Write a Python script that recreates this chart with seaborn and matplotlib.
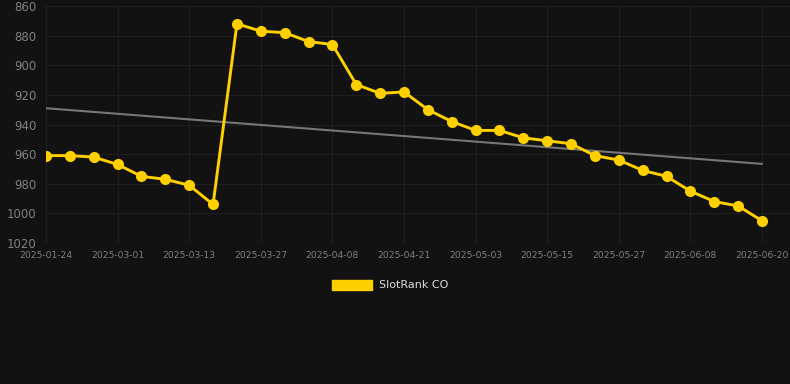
import numpy as np
import pandas as pd
import matplotlib
matplotlib.use('Agg')
import matplotlib.pyplot as plt
from matplotlib.patches import Patch
import seaborn as sns

# rank values (lower = better, axis inverted)
ranks = [961, 961, 962, 967, 975, 977, 981, 994, 872, 877, 878, 884, 886, 913,
         919, 918, 930, 938, 944, 944, 949, 951, 953, 961, 964, 971, 975, 985,
         992, 995, 1005]
tick_labels = ['2025-01-24', '2025-03-01', '2025-03-13', '2025-03-27', '2025-04-08',
               '2025-04-21', '2025-05-03', '2025-05-15', '2025-05-27', '2025-06-08',
               '2025-06-20']
series_name = 'SlotRank CO'

df = pd.DataFrame({'idx': np.arange(len(ranks)), 'rank': ranks})

background = '#121212'
grid_col = '#1f1f1f'
text_col = '#808080'
gold = '#FFD000'

sns.set_style('dark')
fig = plt.figure(figsize=(7.9, 3.84), dpi=100)
fig.set_facecolor(background)
ax = fig.add_axes([46/790, 1 - 243/384, 1 - 46/790, (243 - 6)/384])
ax.patch.set_facecolor(background)

# trend line (linear fit)
slope, icpt = np.polyfit(df['idx'], df['rank'], 1)
ax.plot(df['idx'], icpt + slope * df['idx'], color='#777777', lw=1.5, zorder=2)

sns.lineplot(data=df, x='idx', y='rank', ax=ax, color=gold, lw=2.1,
             marker='o', markersize=8, markeredgewidth=0, zorder=3)

ax.set_ylim(1020, 860)
ax.set_xlim(0, (790 - 46) / ((762 - 46) / 30))
ax.set_yticks(range(860, 1021, 20))
ax.set_xticks(np.arange(0, len(ranks), 3))
ax.set_xticklabels(tick_labels)
ax.tick_params(axis='y', colors=text_col, labelsize=8.5, length=0, pad=7)
ax.tick_params(axis='x', colors=text_col, labelsize=6.6, length=0, pad=6)
ax.grid(True, color=grid_col, lw=0.8)
for s in ax.spines.values():
    s.set_visible(False)
ax.set_xlabel('')
ax.set_ylabel('')

fig.legend(handles=[Patch(color=gold, label=series_name)], loc='center',
           bbox_to_anchor=(390/790, 1 - 285/384), frameon=False,
           labelcolor='#dddddd', fontsize=8, handlelength=3.6, handleheight=1.0,
           handletextpad=0.6)

fig.savefig('out.png', dpi=100, facecolor=background)
